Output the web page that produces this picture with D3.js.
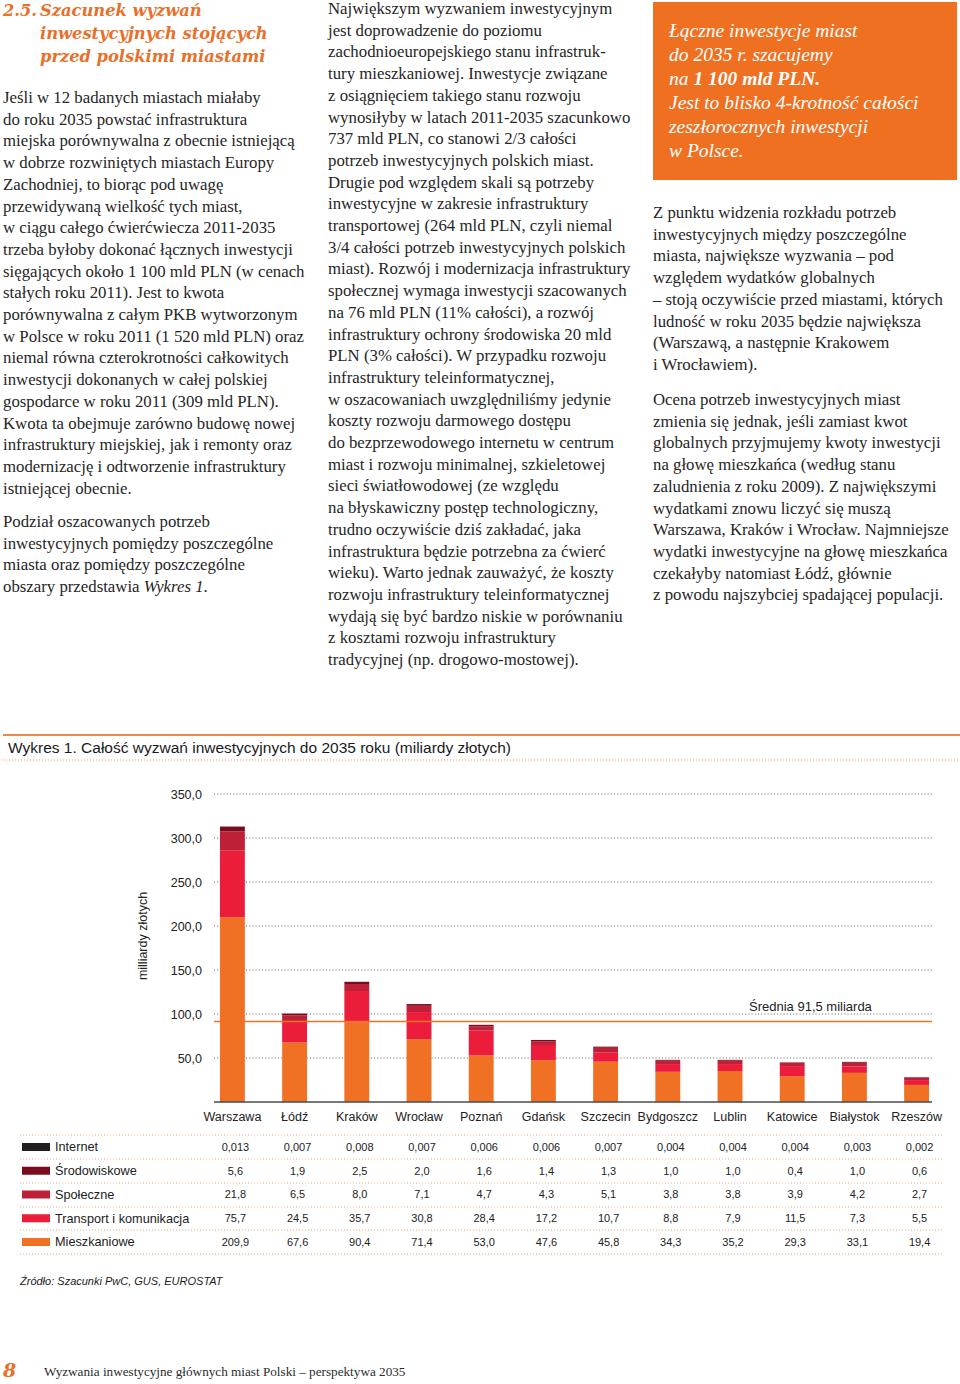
<!DOCTYPE html>
<html><head><meta charset="utf-8">
<script src="https://cdn.jsdelivr.net/npm/d3@7"></script>
<style>
html,body{margin:0;padding:0;background:#fff;}
svg{display:block;}
</style></head>
<body>
<svg id="page" width="960" height="1384"></svg>
<script>
// ---------- DATA ----------
const cities = ["Warszawa","Łódź","Kraków","Wrocław","Poznań","Gdańsk","Szczecin","Bydgoszcz","Lublin","Katowice","Białystok","Rzeszów"];
const seriesNames = ["Internet","Środowiskowe","Społeczne","Transport i komunikacja","Mieszkaniowe"];
const internet      = [0.013,0.007,0.008,0.007,0.006,0.006,0.007,0.004,0.004,0.004,0.003,0.002];
const srodowiskowe  = [5.6,1.9,2.5,2.0,1.6,1.4,1.3,1.0,1.0,0.4,1.0,0.6];
const spoleczne     = [21.8,6.5,8.0,7.1,4.7,4.3,5.1,3.8,3.8,3.9,4.2,2.7];
const transport     = [75.7,24.5,35.7,30.8,28.4,17.2,10.7,8.8,7.9,11.5,7.3,5.5];
const mieszkaniowe  = [209.9,67.6,90.4,71.4,53.0,47.6,45.8,34.3,35.2,29.3,33.1,19.4];
const yTicks = [50,100,150,200,250,300,350];
const average = 91.5;
const averageLabel = "Średnia 91,5 miliarda";

const seriesValues = {
  "Internet": internet,
  "Środowiskowe": srodowiskowe,
  "Społeczne": spoleczne,
  "Transport i komunikacja": transport,
  "Mieszkaniowe": mieszkaniowe
};
const seriesColors = {
  "Internet": "#231f20",
  "Środowiskowe": "#7a0b1f",
  "Społeczne": "#be2038",
  "Transport i komunikacja": "#ec1c3b",
  "Mieszkaniowe": "#f07024"
};
const seriesDecimals = {"Internet":3,"Środowiskowe":1,"Społeczne":1,"Transport i komunikacja":1,"Mieszkaniowe":1};

// ---------- PAGE TEXT ----------
const serif = "'Liberation Serif', 'Times New Roman', serif";
const sans = "'Liberation Sans', Arial, Helvetica, sans-serif";
const ORANGE = "#e8702a";

const svg = d3.select("#page");

function lines(x, y0, lh, arr, opts={}) {
  const t = svg.append("text")
    .attr("font-family", opts.family || serif)
    .attr("font-size", opts.size || 16.8)
    .attr("fill", opts.fill || "#262626")
    .attr("font-style", opts.style || null)
    .attr("font-weight", opts.weight || null);
  arr.forEach((ln, i) => {
    const ts = t.append("tspan").attr("x", x).attr("y", y0 + i*lh);
    if (Array.isArray(ln)) {
      ln.forEach(seg => {
        ts.append("tspan").text(seg.t)
          .attr("font-weight", seg.b ? "bold" : null)
          .attr("font-style", seg.i ? "italic" : null);
      });
    } else ts.text(ln);
  });
  return t;
}

// Section title
svg.append("text").attr("x",3).attr("y",16)
  .attr("font-family","'DejaVu Serif', serif").attr("font-size",16.3)
  .attr("font-weight","bold").attr("font-style","italic").attr("fill",ORANGE)
  .text("2.5.");
lines(40, 16, 23, ["Szacunek wyzwań","inwestycyjnych stojących","przed polskimi miastami"],
  {family:"'DejaVu Serif', serif", size:16.3, weight:"bold", style:"italic", fill:ORANGE});

const LH = 21.7;
lines(3, 103, LH, [
  "Jeśli w 12 badanych miastach miałaby",
  "do roku 2035 powstać infrastruktura",
  "miejska porównywalna z obecnie istniejącą",
  "w dobrze rozwiniętych miastach Europy",
  "Zachodniej, to biorąc pod uwagę",
  "przewidywaną wielkość tych miast,",
  "w ciągu całego ćwierćwiecza 2011-2035",
  "trzeba byłoby dokonać łącznych inwestycji",
  "sięgających około 1 100 mld PLN (w cenach",
  "stałych roku 2011). Jest to kwota",
  "porównywalna z całym PKB wytworzonym",
  "w Polsce w roku 2011 (1 520 mld PLN) oraz",
  "niemal równa czterokrotności całkowitych",
  "inwestycji dokonanych w całej polskiej",
  "gospodarce w roku 2011 (309 mld PLN).",
  "Kwota ta obejmuje zarówno budowę nowej",
  "infrastruktury miejskiej, jak i remonty oraz",
  "modernizację i odtworzenie infrastruktury",
  "istniejącej obecnie."
]);
lines(3, 527, LH, [
  "Podział oszacowanych potrzeb",
  "inwestycyjnych pomiędzy poszczególne",
  "miasta oraz pomiędzy poszczególne",
  [{t:"obszary przedstawia "},{t:"Wykres 1",i:true},{t:"."}]
]);

lines(328, 14, LH, [
  "Największym wyzwaniem inwestycyjnym",
  "jest doprowadzenie do poziomu",
  "zachodnioeuropejskiego stanu infrastruk-",
  "tury mieszkaniowej. Inwestycje związane",
  "z osiągnięciem takiego stanu rozwoju",
  "wynosiłyby w latach 2011-2035 szacunkowo",
  "737 mld PLN, co stanowi 2/3 całości",
  "potrzeb inwestycyjnych polskich miast.",
  "Drugie pod względem skali są potrzeby",
  "inwestycyjne w zakresie infrastruktury",
  "transportowej (264 mld PLN, czyli niemal",
  "3/4 całości potrzeb inwestycyjnych polskich",
  "miast). Rozwój i modernizacja infrastruktury",
  "społecznej wymaga inwestycji szacowanych",
  "na 76 mld PLN (11% całości), a rozwój",
  "infrastruktury ochrony środowiska 20 mld",
  "PLN (3% całości). W przypadku rozwoju",
  "infrastruktury teleinformatycznej,",
  "w oszacowaniach uwzględniliśmy jedynie",
  "koszty rozwoju darmowego dostępu",
  "do bezprzewodowego internetu w centrum",
  "miast i rozwoju minimalnej, szkieletowej",
  "sieci światłowodowej (ze względu",
  "na błyskawiczny postęp technologiczny,",
  "trudno oczywiście dziś zakładać, jaka",
  "infrastruktura będzie potrzebna za ćwierć",
  "wieku). Warto jednak zauważyć, że koszty",
  "rozwoju infrastruktury teleinformatycznej",
  "wydają się być bardzo niskie w porównaniu",
  "z kosztami rozwoju infrastruktury",
  "tradycyjnej (np. drogowo-mostowej)."
]);

// Orange box
svg.append("rect").attr("x",653).attr("y",2).attr("width",304).attr("height",178).attr("fill","#f07022");
lines(669, 37, 24, [
  "Łączne inwestycje miast",
  "do 2035 r. szacujemy",
  [{t:"na "},{t:"1 100 mld PLN.",b:true}],
  "Jest to blisko 4-krotność całości",
  "zeszłorocznych inwestycji",
  "w Polsce."
], {size:19.5, style:"italic", fill:"#ffffff"});

lines(653, 218, LH, [
  "Z punktu widzenia rozkładu potrzeb",
  "inwestycyjnych między poszczególne",
  "miasta, największe wyzwania – pod",
  "względem wydatków globalnych",
  "– stoją oczywiście przed miastami, których",
  "ludność w roku 2035 będzie największa",
  "(Warszawą, a następnie Krakowem",
  "i Wrocławiem)."
]);
lines(653, 405, LH, [
  "Ocena potrzeb inwestycyjnych miast",
  "zmienia się jednak, jeśli zamiast kwot",
  "globalnych przyjmujemy kwoty inwestycji",
  "na głowę mieszkańca (według stanu",
  "zaludnienia z roku 2009). Z największymi",
  "wydatkami znowu liczyć się muszą",
  "Warszawa, Kraków i Wrocław. Najmniejsze",
  "wydatki inwestycyjne na głowę mieszkańca",
  "czekałyby natomiast Łódź, głównie",
  "z powodu najszybciej spadającej populacji."
]);

// ---------- CHART ----------
svg.append("line").attr("x1",3).attr("x2",960).attr("y1",735).attr("y2",735)
  .attr("stroke","#ec8a4a").attr("stroke-width",2);
svg.append("text").attr("x",8).attr("y",753).attr("font-family",sans).attr("font-size",15.5)
  .attr("fill","#1a1a1a").text("Wykres 1. Całość wyzwań inwestycyjnych do 2035 roku (miliardy złotych)");
svg.append("line").attr("x1",3).attr("x2",960).attr("y1",760).attr("y2",760)
  .attr("stroke","#ec9a62").attr("stroke-width",1).attr("stroke-dasharray","1,2");

const x = d3.scaleBand().domain(cities).range([201.3, 947.7]).paddingInner(0.6).paddingOuter(0.3);
const y = d3.scaleLinear().domain([0, 350]).range([1102, 794]);
const plotLeft = 214, plotRight = 932;

// gridlines
svg.append("g").selectAll("line").data(yTicks).join("line")
  .attr("x1", plotLeft).attr("x2", plotRight)
  .attr("y1", d => y(d)).attr("y2", d => y(d))
  .attr("stroke","#666").attr("stroke-width",1).attr("stroke-dasharray","1,2.2");

const fmt1 = d3.formatLocale({decimal:",",thousands:" ",grouping:[3],currency:["",""]});
const yAxis = d3.axisLeft(y).tickValues(yTicks).tickFormat(fmt1.format(".1f")).tickSize(0).tickPadding(0);
const ya = svg.append("g").attr("transform","translate(202,0)").call(yAxis);
ya.select(".domain").remove();
ya.selectAll("text").attr("font-family",sans).attr("font-size",12.5).attr("fill","#222");

svg.append("text").attr("transform","translate(147,936) rotate(-90)")
  .attr("text-anchor","middle").attr("font-family",sans).attr("font-size",12.5).attr("fill","#222")
  .text("milliardy złotych");

// stacked bars
const table = cities.map((c,i) => {
  const o = {city:c};
  seriesNames.forEach(s => o[s] = seriesValues[s][i]);
  return o;
});
const stackKeys = ["Mieszkaniowe","Transport i komunikacja","Społeczne","Środowiskowe","Internet"];
const stacked = d3.stack().keys(stackKeys)(table);
svg.append("g").selectAll("g").data(stacked).join("g")
  .attr("fill", d => seriesColors[d.key])
  .selectAll("rect").data(d => d).join("rect")
  .attr("x", d => x(d.data.city))
  .attr("width", x.bandwidth())
  .attr("y", d => y(d[1]))
  .attr("height", d => Math.max(0, y(d[0]) - y(d[1])));

// average line
svg.append("line").attr("x1",plotLeft).attr("x2",plotRight)
  .attr("y1",y(average)).attr("y2",y(average))
  .attr("stroke","#f07024").attr("stroke-width",1.6);
svg.append("text").attr("x",749).attr("y",1011).attr("font-family",sans).attr("font-size",13)
  .attr("fill","#222").text(averageLabel);

// x axis
const xAxis = d3.axisBottom(x).tickSize(0).tickPadding(10);
const xa = svg.append("g").attr("transform",`translate(0,${y(0)})`).call(xAxis);
xa.select(".domain").remove();
xa.selectAll("text").attr("font-family",sans).attr("font-size",12.5).attr("fill","#222");
svg.append("line").attr("x1",plotLeft).attr("x2",plotRight).attr("y1",y(0)).attr("y2",y(0))
  .attr("stroke","#4a4a4a").attr("stroke-width",1.6);

// data table
const rowY = d3.scalePoint().domain(seriesNames).range([1147, 1242]);
const sepYs = [1135, 1159, 1183, 1207, 1230, 1254];
svg.append("g").selectAll("line").data(sepYs).join("line")
  .attr("x1",20).attr("x2",942).attr("y1",d=>d).attr("y2",d=>d)
  .attr("stroke","#e6ad84").attr("stroke-width",1).attr("stroke-dasharray","1,2");

const rows = svg.append("g").selectAll("g").data(seriesNames).join("g")
  .attr("transform", d => `translate(0,${rowY(d)})`);
rows.append("rect").attr("x",22).attr("y",-4).attr("width",28).attr("height",8)
  .attr("fill", d => seriesColors[d]);
rows.append("text").attr("x",55).attr("dy","0.35em").attr("font-family",sans)
  .attr("font-size",12.7).attr("fill","#222").text(d => d);
rows.each(function(s) {
  const f = fmt1.format("." + seriesDecimals[s] + "f");
  d3.select(this).selectAll("text.v").data(seriesValues[s]).join("text")
    .attr("class","v")
    .attr("x", (d,i) => x(cities[i]) + x.bandwidth()/2 + 3)
    .attr("dy","0.35em").attr("text-anchor","middle")
    .attr("font-family",sans).attr("font-size",11).attr("fill","#222")
    .text(d => f(d));
});

svg.append("text").attr("x",20).attr("y",1285).attr("font-family",sans).attr("font-size",11)
  .attr("font-style","italic").attr("fill","#222").text("Źródło: Szacunki PwC, GUS, EUROSTAT");

// footer
svg.append("text").attr("x",3).attr("y",1377).attr("font-family","'DejaVu Serif', serif")
  .attr("font-size",19).attr("font-weight","bold").attr("font-style","italic").attr("fill",ORANGE).text("8");
svg.append("text").attr("x",44).attr("y",1376).attr("font-family",serif).attr("font-size",13.2)
  .attr("fill","#2b2b2b").text("Wyzwania inwestycyjne głównych miast Polski – perspektywa 2035");
</script>
</body></html>
